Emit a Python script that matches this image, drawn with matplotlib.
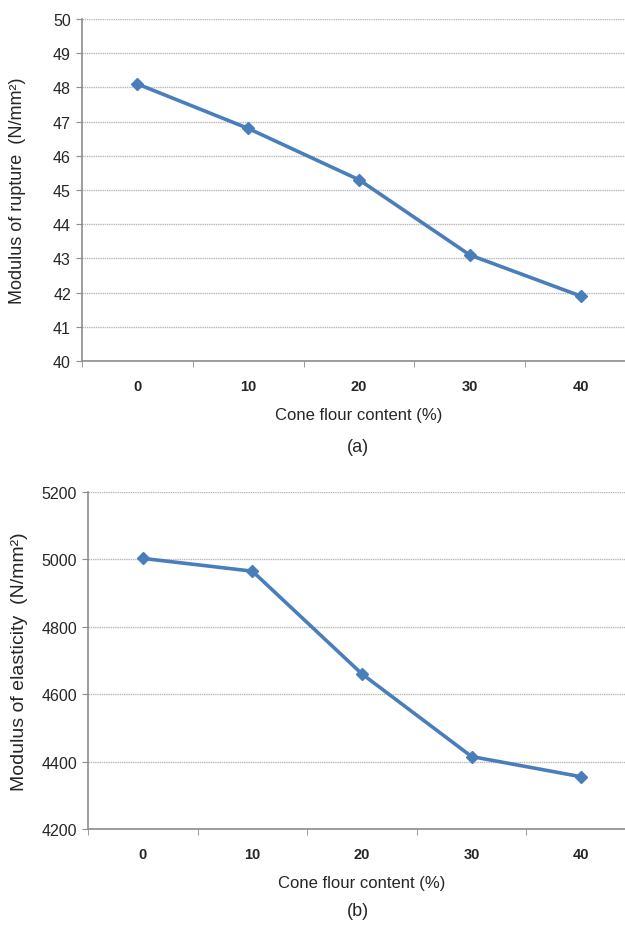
import matplotlib.pyplot as plt
from matplotlib.ticker import FixedLocator

plt.rcParams["font.family"] = ["Liberation Sans", "DejaVu Sans"]

# data
cone_flour = ["0", "10", "20", "30", "40"]
rupture = [48.1, 46.8, 45.3, 43.1, 41.9]
elasticity = [5003, 4965, 4660, 4415, 4355]

LINE_BLUE = "#4a7ebb"
GRID_GREY = "#b8b8b8"
AXIS_GREY = "#8c8c8c"
TEXT_COL = "#262626"

W, H = 625, 928


def px_axes(fig, left, top, right, bottom):
    return fig.add_axes([left / W, 1 - bottom / H, (right - left) / W, (bottom - top) / H])


def style(ax, yticks, ylim, ylabel, ylabel_size):
    x = range(len(cone_flour))
    ax.set_xlim(-0.5, len(cone_flour) - 0.5)
    ax.set_ylim(*ylim)
    ax.set_yticks(yticks)
    ax.set_xticks(list(x))
    ax.set_xticklabels(cone_flour, fontsize=10.5, fontweight="bold", color=TEXT_COL)
    ax.xaxis.set_minor_locator(FixedLocator([i - 0.5 for i in range(len(cone_flour) + 1)]))
    ax.tick_params(axis="x", which="major", length=0, pad=13)
    ax.tick_params(axis="x", which="minor", length=4, color=AXIS_GREY, direction="out")
    ax.tick_params(axis="y", length=4, color=AXIS_GREY, labelsize=11.5, labelcolor=TEXT_COL, pad=4)
    ax.grid(axis="y", color=GRID_GREY, linestyle=(0, (1, 0.6)), linewidth=1)
    ax.set_axisbelow(True)
    for side in ("top", "right"):
        ax.spines[side].set_visible(False)
    for side in ("left", "bottom"):
        ax.spines[side].set_color(AXIS_GREY)
        ax.spines[side].set_linewidth(1.2)
    ax.set_ylabel(ylabel, fontsize=ylabel_size, color=TEXT_COL)
    ax.set_xlabel("Cone flour content (%)", fontsize=12, color=TEXT_COL, labelpad=10)


fig = plt.figure(figsize=(W / 100, H / 100), dpi=100)
fig.patch.set_facecolor("white")

ax1 = px_axes(fig, 82, 20, 636, 362)
ax1.plot(range(len(cone_flour)), rupture, color=LINE_BLUE, lw=2.6,
         marker="D", markersize=6.5, clip_on=False)
style(ax1, range(40, 51), (40, 50), "Modulus of rupture  (N/mm²)", 13)
ax1.yaxis.set_label_coords(-56 / 554, 0.5)
fig.text(358 / W, 1 - 448 / H, "(a)", ha="center", va="center", fontsize=13, color=TEXT_COL)

ax2 = px_axes(fig, 88, 493, 636, 830)
ax2.plot(range(len(cone_flour)), elasticity, color=LINE_BLUE, lw=2.6,
         marker="D", markersize=6.5, clip_on=False)
style(ax2, range(4200, 5201, 200), (4200, 5200), "Modulus of elasticity  (N/mm²)", 14)
ax2.yaxis.set_label_coords(-60 / 548, 0.5)
fig.text(358 / W, 1 - 912 / H, "(b)", ha="center", va="center", fontsize=13, color=TEXT_COL)

fig.savefig("out.png", dpi=100, facecolor=fig.get_facecolor())
